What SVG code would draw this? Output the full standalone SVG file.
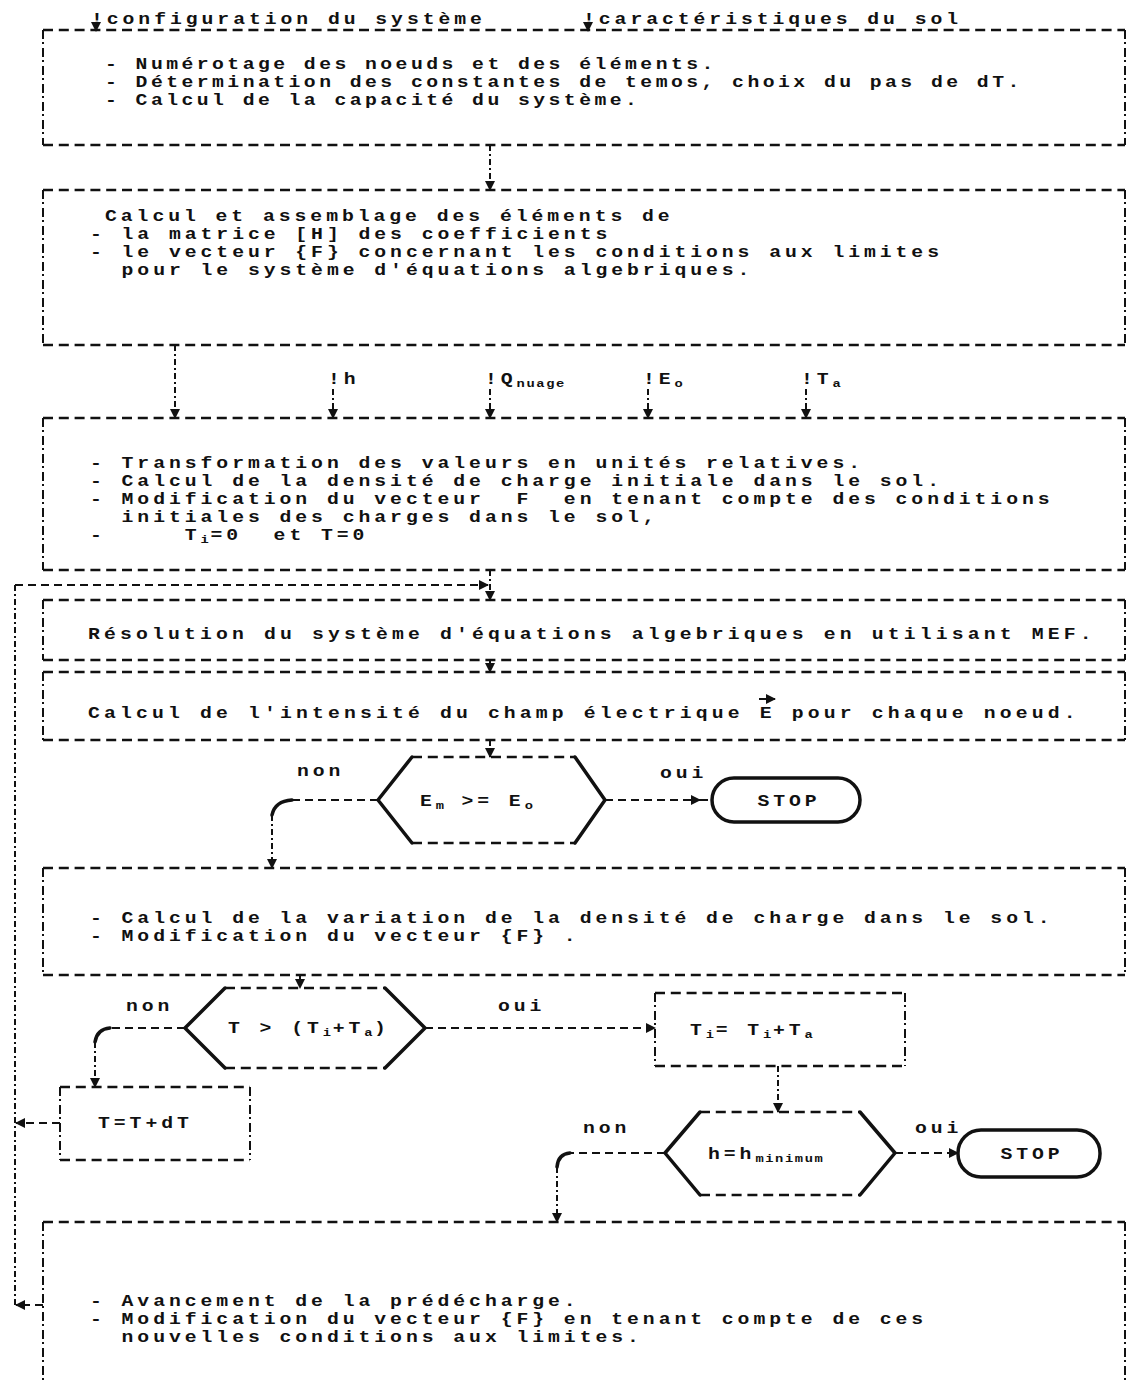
<svg xmlns="http://www.w3.org/2000/svg" width="1129" height="1383" viewBox="0 0 1129 1383" xml:space="preserve">
<style>
.t{font-family:"Liberation Mono","DejaVu Sans Mono",monospace;font-size:15.8px;font-weight:bold;letter-spacing:3.16px;fill:#111;white-space:pre;transform:scale(1.25,1);transform-origin:0 0}
.n{letter-spacing:2.76px}
.w{letter-spacing:3.32px}
.s{font-size:11px;font-weight:bold;letter-spacing:1.3px}
.h{stroke:#111;stroke-width:2.4;stroke-dasharray:10 5.8;fill:none}
.v{stroke:#111;stroke-width:2;stroke-dasharray:9 3 2 4;fill:none}
.k{stroke:#111;stroke-width:3.5;fill:none;stroke-linecap:round;stroke-linejoin:round}
.ch{stroke:#111;stroke-width:2;stroke-dasharray:8 5;fill:none}
.cv{stroke:#111;stroke-width:2;stroke-dasharray:6 3 2 3;fill:none}
</style>
<defs>
<marker id="a" viewBox="0 0 10 10" refX="9" refY="5" markerWidth="10" markerHeight="10" markerUnits="userSpaceOnUse" orient="auto"><path d="M0,0 L10,5 L0,10 z" fill="#111"/></marker>
</defs>
<rect width="1129" height="1383" fill="#fff"/>
<g id="inputs">
<text class="t" x="72.8" y="24">!configuration du système</text>
<text class="t" x="466.4" y="24">!caractéristiques du sol</text>
</g>
<g id="n1">
<path class="h" d="M43,30 H1125 M43,145 H1125"/>
<path class="v" d="M43,30 V145 M1125,30 V145"/>
<text class="t n" x="84" y="69">- Numérotage des noeuds et des éléments.</text>
<text class="t n" x="84" y="87">- Détermination des constantes de temos, choix du pas de dT.</text>
<text class="t n" x="84" y="105">- Calcul de la capacité du système.</text>
</g>
<g id="n2">
<path class="h" d="M43,190 H1125 M43,345 H1125"/>
<path class="v" d="M43,190 V345 M1125,190 V345"/>
<text class="t" x="84" y="221">Calcul et assemblage des éléments de</text>
<text class="t" x="72" y="239">- la matrice [H] des coefficients</text>
<text class="t" x="72" y="257">- le vecteur {F} concernant les conditions aux limites</text>
<text class="t" x="72" y="275">  pour le système d'équations algebriques.</text>
</g>
<g id="params">
<text class="t" x="262.4" y="384">!h</text>
<text class="t" x="388" y="384">!Q<tspan class="s" dy="3">nuage</tspan></text>
<text class="t" x="514.4" y="384">!E<tspan class="s" dy="3">o</tspan></text>
<text class="t" x="640.8" y="384">!T<tspan class="s" dy="3">a</tspan></text>
</g>
<g id="n3">
<path class="h" d="M43,418 H1125 M43,570 H1125"/>
<path class="v" d="M43,418 V570 M1125,418 V570"/>
<text class="t" x="72" y="468">- Transformation des valeurs en unités relatives.</text>
<text class="t" x="72" y="486">- Calcul de la densité de charge initiale dans le sol.</text>
<text class="t" x="72" y="504">- Modification du vecteur  F  en tenant compte des conditions</text>
<text class="t" x="72" y="522">  initiales des charges dans le sol,</text>
<text class="t" x="72" y="540">-     T<tspan class="s" dy="3">i</tspan><tspan dy="-3">=0  et T=0</tspan></text>
</g>
<g id="n4">
<path class="h" d="M43,600 H1125 M43,660 H1125"/>
<path class="v" d="M43,600 V660 M1125,600 V660"/>
<text class="t w" x="70.4" y="639">Résolution du système d'équations algebriques en utilisant MEF.</text>
</g>
<g id="n5">
<path class="h" d="M43,672 H1125 M43,740 H1125"/>
<path class="v" d="M43,672 V740 M1125,672 V740"/>
<text class="t w" x="70.4" y="718">Calcul de l'intensité du champ électrique E pour chaque noeud.</text>
<path d="M759,699 H775" stroke="#111" stroke-width="2" marker-end="url(#a)"/>
</g>
<g id="d1">
<path class="h" d="M412,757 H575 M412,843 H575"/>
<path class="k" d="M412,757 L378,800 L412,843 M575,757 L605,800 L575,843"/>
<text class="t" x="336" y="806">E<tspan class="s" dy="3">m</tspan><tspan dy="-3"> &gt;= E</tspan><tspan class="s" dy="3">o</tspan></text>
</g>
<g id="stop1">
<rect x="712" y="778" width="148" height="44" rx="22" class="k"/>
<text class="t" x="631.2" y="806" text-anchor="middle">STOP</text>
</g>
<g id="n6">
<path class="h" d="M43,868 H1125 M43,975 H1125"/>
<path class="v" d="M43,868 V975 M1125,868 V975"/>
<text class="t" x="72" y="923">- Calcul de la variation de la densité de charge dans le sol.</text>
<text class="t" x="72" y="941">- Modification du vecteur {F} .</text>
</g>
<g id="d2">
<path class="h" d="M225,988 H385 M225,1068 H385"/>
<path class="k" d="M225,988 L185,1028 L225,1068 M385,988 L425,1028 L385,1068"/>
<text class="t" x="182.4" y="1033">T &gt; (T<tspan class="s" dy="3">i</tspan><tspan dy="-3">+T</tspan><tspan class="s" dy="3">a</tspan><tspan dy="-3">)</tspan></text>
</g>
<g id="n7">
<path class="h" d="M655,993 H905 M655,1066 H905"/>
<path class="v" d="M655,993 V1066 M905,993 V1066"/>
<text class="t" x="552" y="1035">T<tspan class="s" dy="3">i</tspan><tspan dy="-3">= T</tspan><tspan class="s" dy="3">i</tspan><tspan dy="-3">+T</tspan><tspan class="s" dy="3">a</tspan></text>
</g>
<g id="n8">
<path class="h" d="M60,1087 H250 M60,1160 H250"/>
<path class="v" d="M60,1087 V1160 M250,1087 V1160"/>
<text class="t" x="78.4" y="1128">T=T+dT</text>
</g>
<g id="d3">
<path class="h" d="M700,1112 H860 M700,1195 H860"/>
<path class="k" d="M700,1112 L665,1153 L700,1195 M860,1112 L895,1153 L860,1195"/>
<text class="t" x="566.4" y="1159">h=h<tspan class="s" dy="3">minimum</tspan></text>
</g>
<g id="stop2">
<rect x="958" y="1130" width="142" height="47" rx="23" class="k"/>
<text class="t" x="825.6" y="1159" text-anchor="middle">STOP</text>
</g>
<g id="n9">
<path class="h" d="M43,1222 H1125"/>
<path class="v" d="M43,1222 V1383 M1125,1222 V1383"/>
<text class="t" x="72" y="1306">- Avancement de la prédécharge.</text>
<text class="t" x="72" y="1324">- Modification du vecteur {F} en tenant compte de ces</text>
<text class="t" x="72" y="1342">  nouvelles conditions aux limites.</text>
</g>
<g id="labels">
<text class="t" x="237.6" y="776">non</text>
<text class="t" x="528" y="778">oui</text>
<text class="t" x="100.8" y="1011">non</text>
<text class="t" x="398.4" y="1011">oui</text>
<text class="t" x="466.4" y="1133">non</text>
<text class="t" x="732" y="1133">oui</text>
</g>
<g id="connectors">
<path class="cv" d="M96,25 V31" marker-end="url(#a)"/>
<path class="cv" d="M588,25 V31" marker-end="url(#a)"/>
<path class="cv" d="M490,145 V190" marker-end="url(#a)"/>
<path class="cv" d="M175,345 V418" marker-end="url(#a)"/>
<path class="cv" d="M333,389 V418" marker-end="url(#a)"/>
<path class="cv" d="M490,389 V418" marker-end="url(#a)"/>
<path class="cv" d="M648,389 V418" marker-end="url(#a)"/>
<path class="cv" d="M806,389 V418" marker-end="url(#a)"/>
<path class="cv" d="M490,570 V600" marker-end="url(#a)"/>
<path class="ch" d="M15,585 H488" marker-end="url(#a)"/>
<path class="cv" d="M15,585 V1305"/>
<path class="cv" d="M490,660 V672" marker-end="url(#a)"/>
<path class="cv" d="M490,740 V757" marker-end="url(#a)"/>
<path class="ch" d="M378,800 H292"/>
<path class="k" d="M292,800 Q275,801 272,815"/>
<path class="cv" d="M272,815 V868" marker-end="url(#a)"/>
<path class="ch" d="M605,800 H700" marker-end="url(#a)"/>
<path class="ch" d="M700,800 H712"/>
<path class="cv" d="M300,975 V988" marker-end="url(#a)"/>
<path class="ch" d="M185,1028 H110"/>
<path class="k" d="M110,1028 Q97,1029 95,1042"/>
<path class="cv" d="M95,1042 V1087" marker-end="url(#a)"/>
<path class="ch" d="M425,1028 H655" marker-end="url(#a)"/>
<path class="cv" d="M778,1066 V1112" marker-end="url(#a)"/>
<path class="ch" d="M665,1153 H570"/>
<path class="k" d="M570,1153 Q558,1154 557,1167"/>
<path class="cv" d="M557,1167 V1222" marker-end="url(#a)"/>
<path class="ch" d="M895,1153 H958" marker-end="url(#a)"/>
<path class="ch" d="M60,1123 H16" marker-end="url(#a)"/>
<path class="ch" d="M43,1305 H16" marker-end="url(#a)"/>
</g>
</svg>
